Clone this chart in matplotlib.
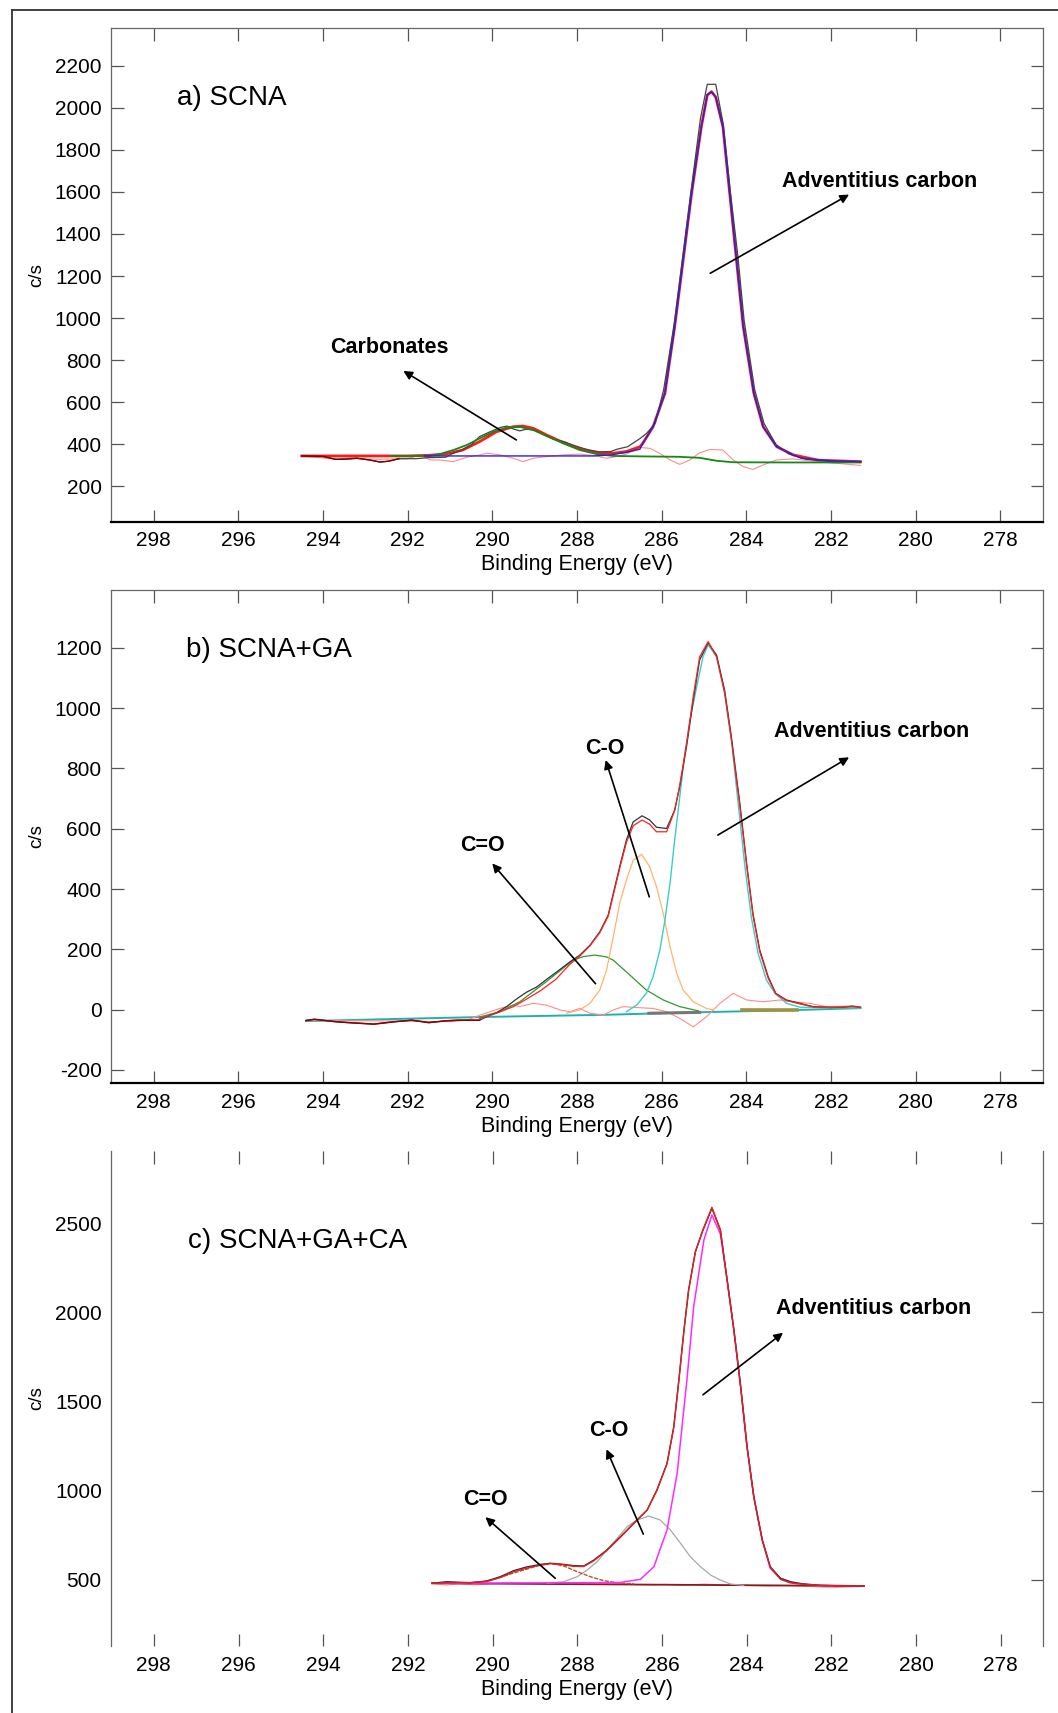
import matplotlib
matplotlib.use('Agg')
import matplotlib.pyplot as plt
import numpy as np
from matplotlib.lines import Line2D

plt.rcParams['font.family'] = ['Liberation Sans', 'DejaVu Sans']
plt.rcParams['axes.unicode_minus'] = False

# ---------------- panel a) SCNA ----------------
a_raw_e = [294.5, 294.0, 293.7, 293.45, 293.2, 292.9, 292.65, 292.45, 292.2, 291.8,
           291.5, 291.1, 290.95, 290.75, 290.5, 290.3, 290.05, 289.8, 289.65, 289.5,
           289.35, 289.2, 289.0, 288.8, 288.55, 288.3, 288.1, 287.85, 287.7, 287.45,
           287.2, 287.05, 286.8, 286.5, 286.35, 286.15, 285.95, 285.7, 285.5, 285.3,
           285.08, 284.92, 284.72, 284.55, 284.38, 284.2, 284.05, 283.8, 283.58, 283.3,
           283.0, 282.6, 282.0, 281.3]
a_raw_v = [345, 343, 329, 330, 334, 326, 316, 320, 332, 332,
           337, 339, 355, 370, 397, 437, 460, 481, 487, 473,
           464, 472, 468, 448, 424, 413, 397, 381, 373, 364,
           366, 377, 389, 429, 453, 500, 660, 975, 1290, 1610,
           1950, 2111, 2111, 1930, 1610, 1300, 990, 660, 500, 400,
           355, 330, 318, 314]
a_fit_e = [294.5, 292.0, 291.5, 291.1, 290.7, 290.3, 289.9, 289.5, 289.27, 289.03,
           288.72, 288.32, 287.93, 287.54, 287.14, 286.83, 286.51, 286.44, 286.2, 285.92,
           285.69, 285.49, 285.29, 285.06, 284.92, 284.82, 284.72, 284.55, 284.39, 284.23,
           284.07, 283.82, 283.6, 283.28, 282.89, 282.3, 281.3]
a_fit_v = [345, 345, 348, 354, 373, 413, 460, 484, 487, 476,
           445, 408, 378, 361, 358, 366, 389, 406, 484, 643,
           959, 1276, 1593, 1909, 2060, 2076, 2050, 1909, 1593, 1276,
           959, 643, 484, 389, 350, 325, 318]
a_adv_e = [291.6, 287.6, 287.2, 286.83, 286.51, 286.44, 286.2, 285.92, 285.69, 285.49,
           285.29, 285.06, 284.92, 284.82, 284.72, 284.55, 284.39, 284.23, 284.07, 283.82,
           283.6, 283.28, 282.89, 282.7, 282.0, 281.3]
a_adv_v = [345, 345, 350, 362, 377, 406, 484, 643, 959, 1276,
           1593, 1909, 2060, 2076, 2050, 1909, 1593, 1276, 959, 643,
           484, 389, 350, 334, 322, 318]
a_carb_e = [292.4, 291.5, 291.24, 290.92, 290.6, 290.29, 289.98, 289.66, 289.35, 289.03,
            288.72, 288.32, 287.93, 287.54, 287.14, 286.5, 285.6, 285.1, 284.7, 284.3,
            283.0, 281.3]
a_carb_v = [345, 345, 354, 373, 397, 429, 460, 480, 483, 468,
            440, 405, 373, 354, 345, 343, 341, 336, 322, 315,
            314, 314]
a_res_e = [294.5, 293.68, 293.36, 292.97, 292.65, 292.34, 292.02, 291.71, 291.47, 291.24,
           290.92, 290.6, 290.29, 290.13, 289.82, 289.5, 289.27, 289.03, 288.72, 288.32,
           287.93, 287.54, 287.3, 287.14, 286.83, 286.51, 286.27, 286.04, 285.8, 285.57,
           285.33, 285.1, 284.86, 284.55, 284.31, 284.07, 283.84, 283.6, 283.29, 282.9,
           282.2, 281.3]
a_res_v = [345, 329, 337, 331, 329, 331, 331, 350, 326, 326,
           318, 339, 350, 358, 350, 334, 318, 334, 342, 350,
           354, 345, 334, 339, 354, 385, 381, 357, 326, 305,
           326, 360, 376, 373, 326, 294, 281, 302, 326, 331,
           316, 300]

# ---------------- panel b) SCNA+GA ----------------
b_raw_e = [294.4, 294.2, 293.7, 293.4, 292.8, 292.3, 291.9, 291.5, 291.1, 290.8,
           290.3, 290.14, 289.9, 289.66, 289.43, 289.19, 288.95, 288.72, 288.45, 288.17,
           287.93, 287.69, 287.46, 287.26, 287.14, 286.99, 286.83, 286.67, 286.46, 286.28,
           286.12, 285.88, 285.69, 285.57, 285.41, 285.25, 285.1, 284.9, 284.7, 284.51,
           284.35, 284.15, 283.99, 283.84, 283.68, 283.48, 283.3, 283.05, 282.73, 282.42,
           282.03, 281.7, 281.5, 281.3]
b_raw_v = [-36, -32, -40, -43, -48, -40, -35, -43, -37, -35,
           -35, -24, -10, 10, 35, 58, 75, 100, 128, 158,
           181, 214, 258, 314, 386, 474, 563, 623, 643, 629,
           605, 601, 662, 740, 872, 1027, 1160, 1217, 1176, 1060,
           905, 684, 485, 319, 198, 109, 54, 32, 21, 10,
           8, 8, 12, 8]
b_fit_e = [290.3, 289.9, 289.5, 289.19, 288.87, 288.5, 288.17, 287.93, 287.69, 287.46,
           287.26, 287.14, 286.99, 286.83, 286.67, 286.46, 286.28, 286.12, 285.88, 285.69,
           285.57, 285.41, 285.25, 285.1, 284.9, 284.7, 284.51, 284.35, 284.15, 283.99,
           283.84, 283.68, 283.48, 283.3, 283.05, 282.73, 282.42, 282.03, 281.5, 281.3]
b_fit_v = [-30, -12, 10, 35, 62, 100, 150, 178, 212, 255,
           310, 380, 468, 555, 610, 629, 615, 590, 590, 660,
           745, 880, 1040, 1170, 1221, 1170, 1052, 895, 675, 478,
           312, 192, 104, 52, 30, 19, 9, 7, 10, 8]
b_bg_e = [294.4, 292.0, 290.1, 287.3, 285.5, 283.0, 281.3]
b_bg_v = [-38, -30, -24, -17, -10, -2, 5]
b_adv_e = [286.83, 286.59, 286.36, 286.2, 286.04, 285.92, 285.8, 285.69, 285.57, 285.45,
           285.33, 285.17, 285.02, 284.9, 284.7, 284.51, 284.35, 284.19, 284.03, 283.88,
           283.72, 283.52, 283.32, 283.05, 282.73, 281.3]
b_adv_v = [-7, 15, 54, 109, 198, 297, 419, 563, 706, 850,
           961, 1071, 1171, 1210, 1171, 1049, 894, 684, 474, 308,
           187, 98, 54, 21, 8, 5]
b_co_e = [288.24, 287.93, 287.69, 287.46, 287.3, 287.14, 286.99, 286.83, 286.67, 286.47,
          286.28, 286.12, 285.96, 285.8, 285.64, 285.49, 285.25, 284.94, 284.78]
b_co_v = [-12, -1, 21, 65, 131, 242, 352, 430, 496, 515,
          474, 408, 319, 209, 120, 65, 26, 4, -1]
b_cdo_e = [290.29, 289.82, 289.35, 288.72, 288.09, 287.85, 287.58, 287.3, 287.14, 286.75,
           286.36, 285.96, 285.57, 285.13]
b_cdo_v = [-24, -7, 26, 93, 164, 176, 181, 175, 164, 115,
           65, 32, 10, -4]
b_res_e = [294.4, 292.0, 291.0, 290.6, 290.29, 289.82, 289.5, 289.35, 289.03, 288.72,
           288.4, 288.17, 287.93, 287.69, 287.38, 287.14, 286.91, 286.59, 286.2, 285.88,
           285.57, 285.25, 284.94, 284.62, 284.31, 283.99, 283.6, 283.21, 282.89, 282.5,
           282.1, 281.63, 281.32]
b_res_v = [-36, -38, -40, -35, -18, 4, 15, 10, 21, 15,
           -1, -7, 4, -12, -18, -1, 10, 7, 4, -7,
           -29, -57, -24, 21, 54, 32, 26, 32, 26, 21,
           10, 12, 10]
b_seg1_e = [286.3, 285.1]
b_seg1_v = [-12, -9]
b_seg2_e = [284.1, 282.8]
b_seg2_v = [-1, -1]

# ---------------- panel c) SCNA+GA+CA ----------------
c_raw_e = [291.43, 291.08, 290.53, 290.13, 289.82, 289.5, 289.19, 288.87, 288.64, 288.4,
           288.08, 287.85, 287.61, 287.3, 286.98, 286.67, 286.35, 286.12, 285.88, 285.72,
           285.6, 285.48, 285.37, 285.21, 285.03, 284.82, 284.62, 284.46, 284.3, 284.14,
           283.99, 283.83, 283.63, 283.44, 283.2, 282.97, 282.65, 282.25, 281.86, 281.23]
c_raw_v = [480, 489, 483, 493, 517, 551, 572, 586, 592, 588,
           579, 577, 610, 667, 741, 816, 891, 1003, 1153, 1359,
           1621, 1901, 2126, 2341, 2462, 2584, 2462, 2182, 1901, 1583,
           1247, 966, 723, 573, 508, 489, 476, 468, 466, 465]
c_fit_e = [291.43, 291.08, 290.53, 290.13, 289.82, 289.5, 289.19, 288.87, 288.64, 288.4,
           288.08, 287.85, 287.61, 287.3, 286.98, 286.67, 286.35, 286.12, 285.88, 285.72,
           285.6, 285.48, 285.37, 285.21, 285.03, 284.82, 284.62, 284.46, 284.3, 284.14,
           283.99, 283.83, 283.63, 283.44, 283.2, 282.97, 282.65, 282.25, 281.86, 281.23]
c_fit_v = [480, 482, 484, 490, 512, 545, 565, 582, 590, 586,
           575, 574, 606, 664, 738, 814, 890, 1000, 1150, 1355,
           1618, 1898, 2124, 2340, 2465, 2590, 2465, 2180, 1898, 1580,
           1244, 962, 720, 568, 502, 482, 474, 468, 466, 465]
c_adv_e = [291.43, 287.0, 286.51, 286.19, 285.88, 285.64, 285.41, 285.25, 285.01, 284.82,
           284.62, 284.46, 284.3, 284.14, 283.99, 283.83, 283.63, 283.44, 283.2, 282.89,
           282.25, 281.23]
c_adv_v = [480, 484, 502, 573, 779, 1097, 1621, 2032, 2406, 2547,
           2440, 2182, 1901, 1583, 1247, 966, 723, 564, 508, 480,
           468, 465]
c_co_e = [288.71, 288.32, 288.0, 287.77, 287.53, 287.3, 287.06, 286.82, 286.59, 286.31,
          286.04, 285.8, 285.56, 285.33, 285.09, 284.85, 284.62, 284.38, 284.07]
c_co_v = [480, 489, 517, 554, 601, 667, 732, 798, 835, 857,
          835, 779, 704, 629, 573, 526, 498, 476, 468]
c_cdo_e = [290.5, 290.21, 289.89, 289.58, 289.27, 288.95, 288.64, 288.32, 288.0, 287.69,
           287.38, 286.98, 286.66]
c_cdo_v = [482, 489, 508, 532, 554, 577, 592, 577, 545, 517,
           495, 480, 477]
c_bg_e = [291.43, 281.23]
c_bg_v = [480, 465]
c_res_e = [291.43, 291.1, 290.8, 290.4, 290.0, 289.5, 289.0, 288.5, 288.0, 287.5,
           287.0, 286.6, 286.2, 285.9, 285.5, 285.0, 284.5, 284.0, 283.5, 283.0,
           282.5, 282.0, 281.7, 281.23]
c_res_v = [478, 470, 476, 471, 478, 482, 479, 476, 480, 476,
           478, 472, 470, 474, 468, 476, 470, 468, 464, 466,
           462, 455, 458, 462]

x_ticks = [298, 296, 294, 292, 290, 288, 286, 284, 282, 280, 278]
a_yticks = [200, 400, 600, 800, 1000, 1200, 1400, 1600, 1800, 2000, 2200]
b_yticks = [-200, 0, 200, 400, 600, 800, 1000, 1200]
c_yticks = [500, 1000, 1500, 2000, 2500]

W, H = 1058, 1713
fig = plt.figure(figsize=(W / 100, H / 100), dpi=100)


def px_axes(left, top, right, bottom):
    return fig.add_axes([left / W, 1 - bottom / H, (right - left) / W, (bottom - top) / H])


def style(ax, ylim, yticks, frame=True):
    ax.set_xlim(299, 277)
    ax.set_ylim(*ylim)
    ax.set_xticks(x_ticks)
    ax.set_yticks(yticks)
    ax.tick_params(direction='in', length=9, width=0.9, colors='#555555',
                   labelcolor='black', labelsize=15, top=True, right=True, pad=7)
    ax.set_xlabel('Binding Energy (eV)', fontsize=15.5, labelpad=3)
    ax.set_ylabel('c/s', fontsize=13.5)
    ax.yaxis.set_label_coords(-0.071, 0.5)
    for side in ['left', 'right', 'top']:
        ax.spines[side].set_color('#666666')
        ax.spines[side].set_linewidth(0.9)
    ax.spines['bottom'].set_color('black')
    ax.spines['bottom'].set_linewidth(1.6)
    if not frame:
        ax.spines['top'].set_visible(False)
        ax.spines['bottom'].set_visible(False)


def arrow(ax, tail, head):
    ax.annotate('', xy=head, xytext=tail,
                arrowprops=dict(arrowstyle='-|>', color='black', lw=1.2,
                                mutation_scale=13, shrinkA=0, shrinkB=0))


def label(ax, x, y, s):
    ax.text(x, y, s, fontsize=15.5, fontweight='bold', ha='center', va='center')


# ---- a ----
ax1 = px_axes(111.3, 27.7, 1042.5, 521.6)
style(ax1, (33, 2380), a_yticks)
e = np.array(a_raw_e)
v = np.array(a_raw_v)
ax1.plot(a_res_e, a_res_v, color='#ff8c8c', lw=0.8)
ax1.plot(a_fit_e, a_fit_v, color='#ff1a1a', lw=2.0)
ax1.plot(e, v, color='#444444', lw=0.9)
ax1.plot(e[e >= 292.2], v[e >= 292.2], color='#800000', lw=1.0)
ax1.plot(a_carb_e, a_carb_v, color='#138a13', lw=1.3)
ax1.plot(a_adv_e, a_adv_v, color='#2a1fe0', lw=1.0)
ax1.text(0.0706, 0.857, 'a) SCNA', transform=ax1.transAxes, fontsize=20,
         ha='left', va='center')
label(ax1, 292.44, 860, 'Carbonates')
arrow(ax1, (289.43, 421), (292.1, 749))
label(ax1, 280.84, 1650, 'Adventitius carbon')
arrow(ax1, (284.85, 1213), (281.57, 1587))

# ---- b ----
ax2 = px_axes(111.3, 590, 1042.5, 1082.9)
style(ax2, (-243, 1392), b_yticks)
e = np.array(b_raw_e)
v = np.array(b_raw_v)
ax2.plot(b_bg_e, b_bg_v, color='#20b2aa', lw=1.4)
ax2.plot(b_res_e, b_res_v, color='#ff8c8c', lw=0.8)
ax2.plot(b_seg1_e, b_seg1_v, color='#777777', lw=2.2)
ax2.plot(b_seg2_e, b_seg2_v, color='#9c9440', lw=2.6)
ax2.plot(b_cdo_e, b_cdo_v, color='#2e9a2e', lw=0.9)
ax2.plot(b_co_e, b_co_v, color='#ffb36e', lw=0.9)
ax2.plot(b_adv_e, b_adv_v, color='#3ccccc', lw=1.0)
ax2.plot(e, v, color='#333333', lw=0.9)
ax2.plot(e[e >= 290.2], v[e >= 290.2], color='#8b0000', lw=1.1)
ax2.plot(b_fit_e, b_fit_v, color='#ff2020', lw=0.9)
ax2.text(0.0799, 0.879, 'b) SCNA+GA', transform=ax2.transAxes, fontsize=20,
         ha='left', va='center')
label(ax2, 290.24, 546, 'C=O')
arrow(ax2, (287.56, 86), (290.0, 485))
label(ax2, 287.35, 866, 'C-O')
arrow(ax2, (286.29, 374), (287.32, 828))
label(ax2, 281.04, 924, 'Adventitius carbon')
arrow(ax2, (284.67, 579), (281.57, 837))

# ---- c ----
ax3 = px_axes(111.5, 1151, 1043, 1646)
style(ax3, (128, 2906), c_yticks, frame=False)
ax3.tick_params(axis='y', which='both', left=False)
ax3.plot(c_res_e, c_res_v, color='#ff9c9c', lw=0.8)
ax3.plot(c_bg_e, c_bg_v, color='#8b1a1a', lw=1.3)
ax3.plot(c_co_e, c_co_v, color='#a8a8a8', lw=0.9)
ax3.plot(c_cdo_e, c_cdo_v, color='#c0501e', lw=1.0, ls=(0, (3, 1)))
ax3.plot(c_adv_e, c_adv_v, color='#ff2aff', lw=1.1)
ax3.plot(c_raw_e, c_raw_v, color='#333333', lw=1.0)
ax3.plot(c_fit_e, c_fit_v, color='#e02020', lw=1.0)
ax3.text(0.0825, 0.819, 'c) SCNA+GA+CA', transform=ax3.transAxes, fontsize=20,
         ha='left', va='center')
label(ax3, 290.17, 951, 'C=O')
arrow(ax3, (288.52, 508), (290.17, 851))
label(ax3, 287.26, 1340, 'C-O')
arrow(ax3, (286.44, 756), (287.31, 1232))
label(ax3, 281.0, 2021, 'Adventitius carbon')
arrow(ax3, (285.03, 1538), (283.14, 1886))

# outer frame of the figure
fig.add_artist(Line2D([12 / W, 12 / W], [0, 1 - 10 / H], color='#333333', lw=1.3))
fig.add_artist(Line2D([12 / W, 1], [1 - 10 / H, 1 - 10 / H], color='#333333', lw=1.3))

fig.savefig('out.png', dpi=100)
